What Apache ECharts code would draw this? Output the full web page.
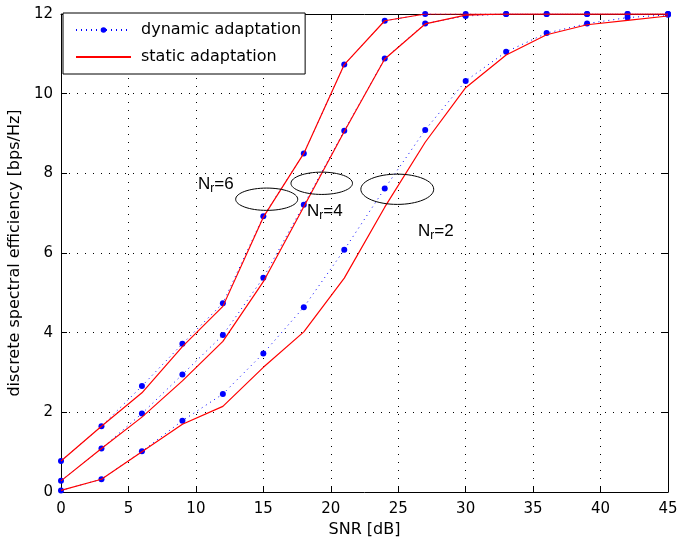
<!DOCTYPE html>
<html><head><meta charset="utf-8">
<script src="https://cdn.jsdelivr.net/npm/echarts@6/dist/echarts.min.js"></script>
<style>html,body{margin:0;padding:0;background:#fff}#c{width:681px;height:541px}</style>
</head><body><div id="c"></div>
<script>
const snr = [0,3,6,9,12,15,18,21,24,27,30,33,36,39,42,45];
const xTicks = [0,5,10,15,20,25,30,35,40,45];
const yTicks = [0,2,4,6,8,10,12];
const dynamicNr6 = [0.78,1.65,2.66,3.72,4.74,6.92,8.50,10.73,11.83,12,12,12,12,12,12,12];
const staticNr6  = [0.78,1.65,2.49,3.65,4.66,6.90,8.50,10.73,11.83,12,12,12,12,12,12,12];
const dynamicNr4 = [0.28,1.09,1.97,2.95,3.94,5.38,7.21,9.07,10.88,11.76,11.95,12,12,12,12,12];
const staticNr4  = [0.28,1.09,1.88,2.79,3.78,5.28,7.16,9.05,10.87,11.75,11.97,12,12,12,12,12];
const dynamicNr2 = [0.04,0.32,1.02,1.79,2.46,3.48,4.64,6.08,7.62,9.09,10.32,11.05,11.52,11.76,11.91,11.98];
const staticNr2  = [0.04,0.32,1.01,1.70,2.15,3.13,4.02,5.37,7.15,8.78,10.15,10.97,11.48,11.73,11.84,11.95];
const legendNames = ['dynamic adaptation','static adaptation'];
// annotations (data units)
const ellipseCenters = [[15.25,7.35],[19.33,7.75],[24.93,7.60]];
const ellipseRadii = [[2.3,0.28],[2.28,0.28],[2.7,0.38]];
const labelValues = ['6','4','2'];
const labelAnchors = [[10.16,7.93],[18.24,7.26],[26.47,6.75]];

const FONT = "'DejaVu Sans', 'Liberation Sans', Arial, sans-serif";
const FONT2 = "'Liberation Sans', Arial, Helvetica, sans-serif";
const pair = v => snr.map((x,i)=>[x,v[i]]);
function dyn(v){return {name:legendNames[0],type:'line',data:pair(v),symbol:'circle',symbolSize:6,
  itemStyle:{color:'#0000ff'},lineStyle:{color:'#0000ff',width:1,type:[1,4]},silent:true,z:2};}
function sta(v){return {name:legendNames[1],type:'line',data:pair(v),symbol:'none',showSymbol:false,
  itemStyle:{color:'#ff0000'},lineStyle:{color:'#ff0000',width:1.2},silent:true,z:3};}

const axisCommon = {
  type:'value', axisLine:{show:true,onZero:false,lineStyle:{color:'#000',width:1}},
  axisTick:{show:true,inside:true,length:6,lineStyle:{color:'#000'}},
};
const chart = echarts.init(document.getElementById('c'));
chart.setOption({
  animation:false,
  backgroundColor:'#fff',
  textStyle:{fontFamily:FONT},
  grid:{left:61,right:13,top:14,bottom:49,containLabel:false,outerBoundsMode:'none'},
  legend:{data:[{name:legendNames[0]},{name:legendNames[1],itemStyle:{opacity:0}}],
    orient:'vertical',left:63,top:13,backgroundColor:'#fff',
    borderColor:'#000',borderWidth:1,borderRadius:0,padding:[7,4,7,12],itemGap:7,
    itemWidth:55,itemHeight:7,selectedMode:false,
    textStyle:{fontSize:16,fontFamily:FONT,color:'#000',lineHeight:20,padding:[0,0,0,5]}},
  xAxis:[
    Object.assign({},axisCommon,{position:'bottom',min:xTicks[0],max:xTicks[xTicks.length-1],interval:xTicks[1]-xTicks[0],
      axisLabel:{margin:10,fontSize:15,color:'#000',fontFamily:FONT},
      splitLine:{show:true,lineStyle:{color:'#000',width:1,type:[1,7]}},
      name:'SNR [dB]',nameLocation:'middle',nameGap:20,nameTextStyle:{fontSize:16,color:'#000',fontFamily:FONT}}),
    Object.assign({},axisCommon,{position:'top',min:xTicks[0],max:xTicks[xTicks.length-1],interval:xTicks[1]-xTicks[0],
      axisLabel:{show:false},splitLine:{show:false}})
  ],
  yAxis:[
    Object.assign({},axisCommon,{position:'left',min:yTicks[0],max:yTicks[yTicks.length-1],interval:yTicks[1]-yTicks[0],
      axisLabel:{margin:8,fontSize:15,color:'#000',fontFamily:FONT},
      splitLine:{show:true,lineStyle:{color:'#000',width:1,type:[1,7]}},
      name:'discrete spectral efficiency [bps/Hz]',nameLocation:'middle',nameGap:33,nameRotate:90,
      nameTextStyle:{fontSize:16,color:'#000',fontFamily:FONT}}),
    Object.assign({},axisCommon,{position:'right',min:yTicks[0],max:yTicks[yTicks.length-1],interval:yTicks[1]-yTicks[0],
      axisLabel:{show:false},splitLine:{show:false}})
  ],
  series:[
    dyn(dynamicNr6),dyn(dynamicNr4),dyn(dynamicNr2),
    sta(staticNr6),sta(staticNr4),sta(staticNr2),
    {type:'custom',coordinateSystem:'cartesian2d',silent:true,z:10,
     data:ellipseCenters.map((c,i)=>[c[0],c[1],ellipseRadii[i][0],ellipseRadii[i][1]]),
     renderItem:(params,api)=>{
       const p=api.coord([api.value(0),api.value(1)]);
       const s=api.size([api.value(2),api.value(3)]);
       return {type:'ellipse',shape:{cx:p[0],cy:p[1],rx:s[0],ry:s[1]},
         style:{fill:'none',stroke:'#000',lineWidth:1}};
     }},
    {type:'custom',coordinateSystem:'cartesian2d',silent:true,z:11,
     data:labelAnchors.map((c,i)=>[c[0],c[1],i]),
     renderItem:(params,api)=>{
       const p=api.coord([api.value(0),api.value(1)]);
       const t=labelValues[api.value(2)];
       return {type:'text',x:p[0],y:p[1],
         style:{text:'{n|N}{s|r}{n|='+t+'}',align:'left',verticalAlign:'top',
           rich:{n:{fontSize:17,fontFamily:FONT2,color:'#000',lineHeight:18,verticalAlign:'top'},
                 s:{fontSize:12,fontFamily:FONT2,color:'#000',lineHeight:18,padding:[7,0,0,0],verticalAlign:'top'}}}};
     }}
  ]
});
</script></body></html>
